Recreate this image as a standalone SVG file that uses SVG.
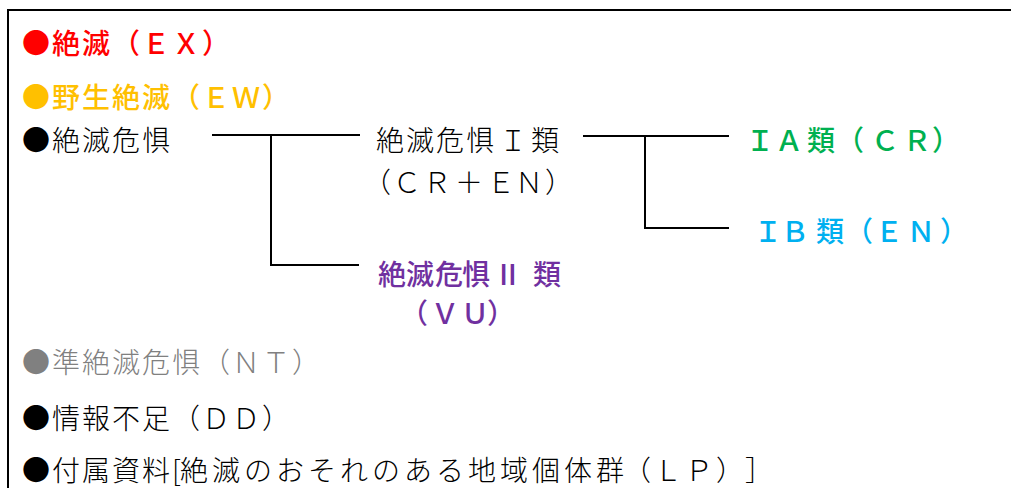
<svg xmlns="http://www.w3.org/2000/svg" width="1011" height="488" viewBox="0 0 1011 488">
<style>
text{font-family:"Noto Sans CJK JP","Noto Sans CJK SC",sans-serif;font-size:28px;font-weight:300;fill:#000}
.red{fill:#FF0000;font-weight:500}
.ew{fill:#FFC000;font-weight:500}
.cr{fill:#00B050;font-weight:500}
.en{fill:#00B0F0;font-weight:500}
.vu{fill:#7030A0;font-weight:500}
.nt{fill:#808080}
.ln{stroke:#000;stroke-width:2;fill:none}
</style>
<rect width="1011" height="488" fill="#fff"/>
<g id="frame"><path class="ln" d="M8 488V10H1011" stroke-width="2.5"/></g>
<g id="ex"><text class="red" x="22 52 82 112 142 172 202" y="54">●絶滅（ＥＸ）</text></g>
<g id="ew"><text class="ew" x="22 52 82 112 142 172 202 232 262" y="108">●野生絶滅（ＥＷ）</text></g>
<g id="threatened"><text x="22 52 82 112 142" y="151">●絶滅危惧</text></g>
<g id="cat1"><text x="376 406 436 466 499 531" y="151">絶滅危惧Ｉ類</text><text x="363 393 423 455 487 515 545" y="193">（ＣＲ＋ＥＮ）</text></g>
<g id="ia"><text class="cr" x="746 775 807 836 871 903 932" y="151">ＩＡ類（ＣＲ）</text></g>
<g id="ib"><text class="en" x="754 781 816 845 875 907 940" y="242">ＩＢ類（ＥＮ）</text></g>
<g id="vu"><text class="vu" x="378 406 435 462 494 533" y="285">絶滅危惧Ⅱ類</text><text class="vu" x="400 431 461 487" y="324">（ＶＵ）</text></g>
<g id="nt"><text class="nt" x="22 52 82 112 142 172 202 232 262 292" y="373">●準絶滅危惧（ＮＴ）</text></g>
<g id="dd"><text x="22 52 82 112 142 172 202 232 262" y="429">●情報不足（ＤＤ）</text></g>
<g id="lp"><text x="22 52 82 112 142 172 180 212 244 276 308 340 372 404 436 468 500 532 564 596 623 654 685 716 745" y="481">●付属資料[絶滅のおそれのある地域個体群（ＬＰ）］</text></g>
<g id="connectors">
<path class="ln" d="M212 135H360M271 135V265H359"/>
<path class="ln" d="M583 136H729M645 136V228H729"/>
</g>
</svg>
